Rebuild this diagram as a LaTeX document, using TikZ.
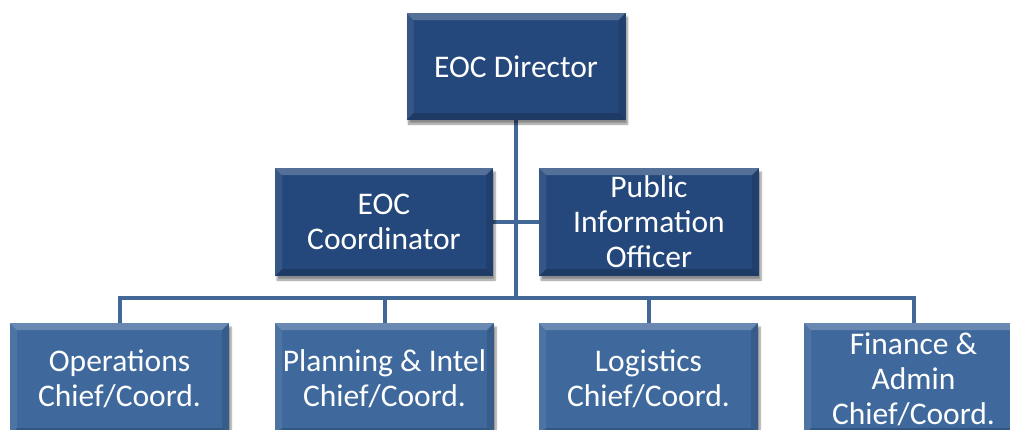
\documentclass[tikz,border=0pt]{standalone}
\usepackage{fontspec}
\setmainfont{Carlito}
\usetikzlibrary{shadows.blur,backgrounds}
\definecolor{topblue}{RGB}{37,72,124}
\definecolor{lowblue}{RGB}{63,105,157}
\definecolor{linkblue}{RGB}{66,104,152}
\tikzset{
  box/.style={rectangle, draw=none, text=white, align=center,
    minimum width=219pt, inner sep=2pt,
    font=\fontsize{31.5}{35}\selectfont,
    blur shadow={shadow xshift=2pt, shadow yshift=-4pt, shadow blur steps=6, shadow opacity=45},
    path picture={
      \fill[white,opacity=0.22] (path picture bounding box.north west) -- (path picture bounding box.north east)
        -- ([xshift=-7pt,yshift=-7pt]path picture bounding box.north east) -- ([xshift=7pt,yshift=-7pt]path picture bounding box.north west) -- cycle;
      \fill[white,opacity=0.08] (path picture bounding box.north west) -- ([xshift=7pt,yshift=-7pt]path picture bounding box.north west)
        -- ([xshift=7pt,yshift=7pt]path picture bounding box.south west) -- (path picture bounding box.south west) -- cycle;
      \fill[black,opacity=0.12] (path picture bounding box.north east) -- ([xshift=-7pt,yshift=-7pt]path picture bounding box.north east)
        -- ([xshift=-7pt,yshift=7pt]path picture bounding box.south east) -- (path picture bounding box.south east) -- cycle;
      \fill[black,opacity=0.18] (path picture bounding box.south west) -- (path picture bounding box.south east)
        -- ([xshift=-7pt,yshift=7pt]path picture bounding box.south east) -- ([xshift=7pt,yshift=7pt]path picture bounding box.south west) -- cycle;
    }},
  topbox/.style={box, fill=topblue, minimum height=107pt},
  lowbox/.style={box, fill=lowblue, minimum height=112pt},
  link/.style={draw=linkblue, line width=4pt}
}
\begin{document}
\begin{tikzpicture}[x=1pt,y=-1pt]
\useasboundingbox (0,0) rectangle (1010,429);
\clip (0,0) rectangle (1010,429);
% boxes
\node[topbox] (dir) at (516,66.5) {EOC Director};
\node[topbox, minimum height=108pt, minimum width=218pt] (coord) at (384,222) {EOC\\Coordinator};
\node[topbox, minimum height=108pt, minimum width=220pt] (pio) at (649,222) {Public\\Information\\Officer};
\node[lowbox] (ops) at (119.5,379) {Operations\\Chief/Coord.};
\node[lowbox] (plan) at (384.5,379) {Planning \& Intel\\Chief/Coord.};
\node[lowbox] (log) at (648.5,379) {Logistics\\Chief/Coord.};
\node[lowbox] (fin) at (913.5,379) {Finance \&\\Admin\\Chief/Coord.};
\coordinate (bus) at (516,298);
% connectors
\begin{scope}[on background layer]
\draw[link] (dir.south) -- (bus);
\draw[link] (coord.east) -- (pio.west);
\draw[link] (ops.north) |- (bus) -| (fin.north);
\draw[link] (plan.north) -- (plan.north |- bus);
\draw[link] (log.north) -- (log.north |- bus);
\end{scope}
\end{tikzpicture}
\end{document}
